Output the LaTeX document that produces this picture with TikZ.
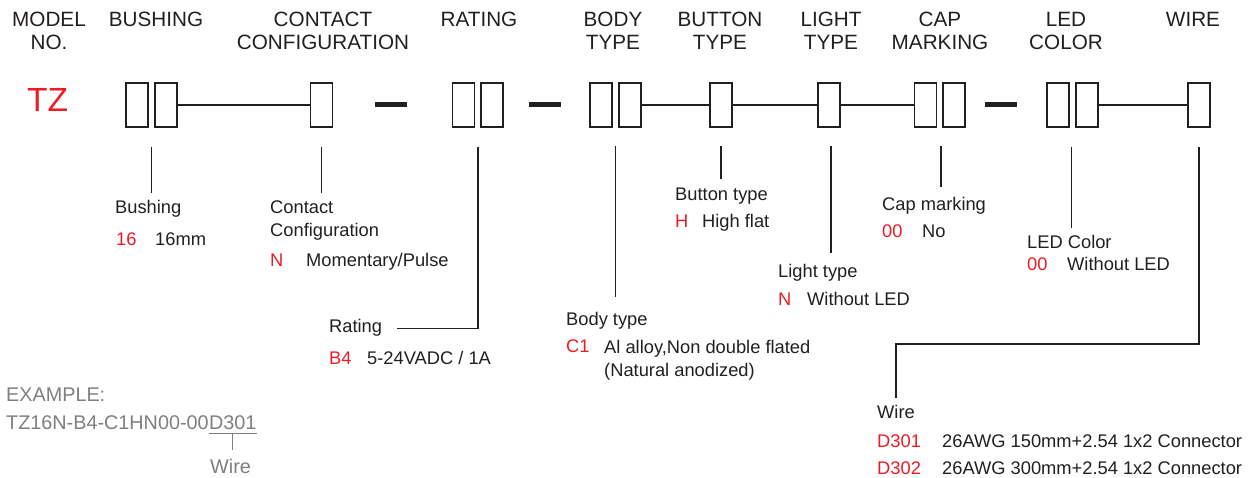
\documentclass[tikz,border=0pt]{standalone}
\usepackage{fontspec}
\setmainfont{Liberation Sans}
\usepackage{tikz}
\usetikzlibrary{positioning, calc}
\definecolor{ink}{HTML}{231F20}
\definecolor{codered}{HTML}{ED1C24}
\definecolor{exgray}{HTML}{7F7F7F}
\newcommand{\hdrfont}{\fontsize{20.7pt}{23pt}\selectfont}
\newcommand{\lblfont}{\fontsize{18.3pt}{23.5pt}\selectfont}
\newcommand{\exfont}{\fontsize{19.8pt}{24pt}\selectfont}
\newcommand{\tzfont}{\fontsize{33.5pt}{36pt}\selectfont}

\begin{document}
\begin{tikzpicture}[
x=1pt, y=-1pt,
hdr/.style={anchor=base, align=center, inner sep=0, font=\hdrfont, text=ink},
codebox/.style={rectangle,
  draw=ink,
  line width=1.8pt,
  minimum width=22pt,
  minimum height=44pt,
  inner sep=0
},
dashbar/.style={rectangle, fill=ink, minimum width=32pt, minimum height=5pt, inner sep=0},
link/.style={draw=ink, line width=1.5pt},
leader/.style={draw=ink, line width=1.5pt},
lbl/.style={anchor=base west, align=left, inner sep=0, font=\lblfont, text=ink},
code/.style={lbl, text=codered},
extext/.style={anchor=base west, inner sep=0, font=\exfont, text=exgray}
]
\useasboundingbox (0,0) rectangle (1254,478);

\node[hdr] (hmodel) at (49,50) {MODEL\\NO.};
\node[hdr] (hbush) at (156,27) {BUSHING};
\node[hdr] (hcont) at (323,50) {CONTACT\\CONFIGURATION};
\node[hdr] (hrate) at (479,27) {RATING};
\node[hdr] (hbody) at (613,50) {BODY\\TYPE};
\node[hdr] (hbtn) at (720,50) {BUTTON\\TYPE};
\node[hdr] (hlight) at (831,50) {LIGHT\\TYPE};
\node[hdr] (hcap) at (940,50) {CAP\\MARKING};
\node[hdr] (hled) at (1066,50) {LED\\COLOR};
\node[hdr] (hwire) at (1193,27) {WIRE};

\node[anchor=base west, inner sep=0, font=\tzfont, text=codered] (tz) at (27,112) {TZ};

\node[codebox] (bush1) at (137,105) {};
\node[codebox, right=5pt of bush1] (bush2) {};
\node[codebox] (cont) at (321.5,105) {};
\node[dashbar] (dasha) at (391,105) {};
\node[codebox] (rate1) at (463.5,105) {};
\node[codebox, right=5pt of rate1] (rate2) {};
\node[dashbar] (dashb) at (545,105) {};
\node[codebox] (body1) at (601,105) {};
\node[codebox, right=5pt of body1] (body2) {};
\node[codebox] (btn) at (721,105) {};
\node[codebox] (light) at (829,105) {};
\node[codebox] (cap1) at (925.5,105) {};
\node[codebox, right=5pt of cap1] (cap2) {};
\node[dashbar] (dashc) at (1000.5,105) {};
\node[codebox] (led1) at (1058,105) {};
\node[codebox, right=5pt of led1] (led2) {};
\node[codebox] (wire) at (1199,105) {};

\draw[link] (bush2) -- (cont);
\draw[link] (body2) -- (btn);
\draw[link] (btn) -- (light);
\draw[link] (light) -- (cap1);
\draw[link] (led2) -- (wire);

\node[lbl] (bushlbl) at (115,214) {Bushing};
\node[code] (bushcode) at (116,246) {16};
\node[lbl] (bushval) at (155,246) {16mm};
\node[lbl] (contlbl) at (270,237) {Contact\\Configuration};
\node[code] (contcode) at (270,267) {N};
\node[lbl] (contval) at (306,267) {Momentary/Pulse};
\node[lbl] (ratelbl) at (329,333) {Rating};
\node[code] (ratecode) at (329,365) {B4};
\node[lbl] (rateval) at (367,365) {5-24VADC / 1A};
\node[lbl] (bodylbl) at (566,326) {Body type};
\node[code] (bodycode) at (566,353) {C1};
\node[lbl] (bodyval) at (604,377) {Al alloy,Non double flated\\(Natural anodized)};
\node[lbl] (btnlbl) at (675,201) {Button type};
\node[code] (btncode) at (675,228) {H};
\node[lbl] (btnval) at (702,228) {High flat};
\node[lbl] (lightlbl) at (778,278) {Light type};
\node[code] (lightcode) at (778,306) {N};
\node[lbl] (lightval) at (807,306) {Without LED};
\node[lbl] (caplbl) at (882,211) {Cap marking};
\node[code] (capcode) at (882,238) {00};
\node[lbl] (capval) at (922,238) {No};
\node[lbl] (ledlbl) at (1027,249) {LED Color};
\node[code] (ledcode) at (1027,271) {00};
\node[lbl] (ledval) at (1067,271) {Without LED};
\node[lbl] (wirelbl) at (877,418) {Wire};
\node[code] (wirecodea) at (877,447) {D301};
\node[lbl] (wirevala) at (942,447) {26AWG 150mm+2.54 1x2 Connector};
\node[code] (wirecodeb) at (877,475) {D302};
\node[lbl] (wirevalb) at (942,475) {26AWG 300mm+2.54 1x2 Connector};

\coordinate (bushtop) at ($(bush1.south)!.5!(bush2.south) + (0,19)$);
\coordinate (conttop) at ($(cont.south) + (0,19)$);
\coordinate (ratetop) at ($(rate1.south)!.5!(rate2.south) + (0,19)$);
\coordinate (bodytop) at ($(body1.south)!.5!(body2.south) + (0,18)$);
\coordinate (btntop) at ($(btn.south) + (0,18)$);
\coordinate (lighttop) at ($(light.south) + (2,18)$);
\coordinate (captop) at ($(cap1.south)!.5!(cap2.south) + (1,18)$);
\coordinate (ledtop) at ($(led1.south)!.5!(led2.south) + (-1,19)$);
\coordinate (wiretop) at ($(wire.south) + (0,19)$);

\draw[leader] (bushtop) -- ++(0,46);
\draw[leader] (conttop) -- ++(0,46);
\draw[leader] (ratetop) |- ([xshift=15pt]ratelbl.east);
\draw[leader] (bodytop) -- ++(0,151);
\draw[leader] (btntop) -- ++(0,33);
\draw[leader] (lighttop) -- ++(0,107);
\draw[leader] (captop) -- ++(0,41);
\draw[leader] (ledtop) -- ++(0,81);
\draw[leader] (wiretop) -- ++(0,197) -| ([yshift=7pt]wirelbl.north);

\node[extext] (exhead) at (6,402) {EXAMPLE:};
\node[extext] (exmodel) at (6,430) {TZ16N-B4-C1HN00-00};
\node[extext] (exwire) at (exmodel.base east) {D301};
\node[extext] (exwirelbl) at (210,474) {Wire};
\draw[exgray, line width=0.8pt] ([yshift=-3pt]exwire.south west) -- ([yshift=-3pt]exwire.south east);
\draw[exgray, line width=0.8pt] ([yshift=-3pt]exwire.south) -- ++(0,17);
\end{tikzpicture}
\end{document}
